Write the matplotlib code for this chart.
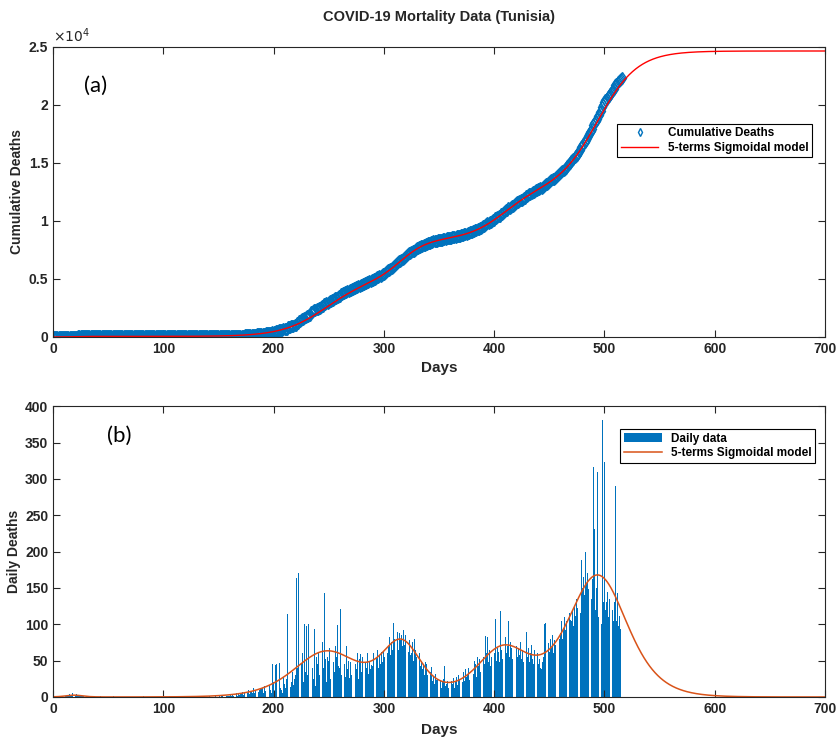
import numpy as np
import matplotlib
matplotlib.use("Agg")
import matplotlib.pyplot as plt

plt.rcParams['font.family'] = ['Liberation Sans', 'DejaVu Sans']

# daily deaths, day 0 .. 516
daily_deaths = [
    0, 0, 1, 0, 0, 1, 0, 2, 1, 0,
    1, 2, 1, 3, 2, 4, 3, 2, 5, 3,
    2, 4, 3, 1, 2, 3, 1, 2, 1, 0,
    1, 0, 1, 0, 0, 0, 1, 0, 0, 0,
    0, 0, 0, 1, 0, 0, 0, 0, 0, 0,
    0, 0, 0, 0, 0, 1, 0, 0, 0, 0,
    0, 0, 0, 0, 0, 0, 0, 0, 1, 0,
    0, 0, 0, 0, 0, 0, 0, 0, 0, 0,
    0, 0, 1, 0, 0, 0, 0, 0, 0, 0,
    0, 0, 0, 0, 0, 0, 0, 0, 0, 0,
    0, 0, 0, 0, 0, 0, 1, 0, 0, 0,
    0, 0, 0, 0, 0, 0, 0, 0, 0, 0,
    1, 0, 0, 0, 0, 0, 0, 0, 0, 1,
    0, 0, 0, 0, 0, 0, 0, 0, 0, 0,
    0, 0, 1, 0, 0, 0, 0, 1, 0, 0,
    0, 1, 0, 2, 1, 0, 3, 1, 2, 1,
    2, 3, 1, 4, 2, 3, 5, 2, 4, 3,
    5, 4, 7, 3, 6, 8, 5, 9, 4, 7,
    8, 6, 12, 5, 10, 20, 7, 9, 12, 11,
    12, 6, 15, 8, 31, 7, 17, 10, 5, 45,
    20, 8, 44, 46, 15, 47, 12, 10, 5, 28,
    18, 12, 25, 114, 60, 14, 20, 35, 16, 25,
    30, 164, 40, 170, 25, 45, 60, 20, 100, 35,
    98, 30, 100, 20, 217, 40, 25, 93, 15, 55,
    45, 62, 30, 58, 75, 40, 143, 52, 20, 55,
    50, 68, 25, 72, 48, 35, 70, 55, 99, 43,
    40, 121, 30, 62, 45, 28, 70, 38, 50, 26,
    48, 30, 55, 28, 45, 38, 60, 25, 52, 59,
    35, 55, 28, 48, 40, 60, 32, 50, 38, 44,
    42, 60, 35, 55, 65, 40, 58, 45, 62, 48,
    62, 55, 78, 60, 70, 82, 58, 75, 64, 102,
    80, 72, 90, 65, 88, 78, 85, 70, 92, 72,
    85, 70, 62, 78, 58, 60, 75, 50, 80, 65,
    55, 48, 60, 42, 50, 38, 45, 30, 48, 45,
    30, 25, 35, 41, 22, 28, 18, 32, 24, 25,
    18, 22, 12, 20, 25, 42, 15, 18, 22, 13,
    15, 22, 18, 26, 12, 20, 28, 16, 30, 23,
    25, 20, 35, 22, 38, 28, 30, 40, 24, 32,
    40, 32, 50, 45, 28, 55, 42, 52, 35, 52,
    55, 45, 84, 60, 82, 48, 65, 42, 55, 57,
    60, 107, 50, 68, 62, 48, 118, 65, 52, 67,
    82, 60, 70, 105, 55, 75, 68, 52, 72, 67,
    70, 55, 68, 58, 75, 52, 65, 48, 62, 90,
    55, 68, 48, 60, 72, 52, 45, 65, 58, 60,
    45, 52, 40, 38, 48, 55, 100, 102, 50, 74,
    62, 80, 68, 85, 60, 78, 72, 90, 65, 80,
    88, 105, 80, 95, 110, 92, 105, 98, 115, 106,
    105, 120, 98, 125, 112, 135, 122, 194, 115, 189,
    150, 165, 140, 200, 155, 170, 148, 162, 135, 162,
    316, 231, 120, 150, 309, 110, 185, 100, 381, 130,
    323, 120, 130, 145, 110, 135, 128, 120, 105, 130,
    290, 105, 143, 98, 112, 93, 85,
]

# fitted 5-terms sigmoidal model: amplitude, centre (day), width (days)
sig_amp = [50, 5000, 3400, 4200, 12000]
sig_center = [19, 248, 316, 408, 494]
sig_width = [5, 20, 12, 16, 18]

x_ticks = [0, 100, 200, 300, 400, 500, 600, 700]
y1_ticks = [0, 5000, 10000, 15000, 20000, 25000]
y1_labels = ['0', '0.5', '1', '1.5', '2', '2.5']
y2_ticks = [0, 50, 100, 150, 200, 250, 300, 350, 400]

days = np.arange(len(daily_deaths))
cumulative = np.cumsum(daily_deaths)

t = np.linspace(0, 700, 1401)
model_cum = np.zeros_like(t)
model_daily = np.zeros_like(t)
for a, c, w in zip(sig_amp, sig_center, sig_width):
    s = 1.0 / (1.0 + np.exp(-(t - c) / w))
    model_cum += a * s
    model_daily += a / w * s * (1 - s)

blue = '#0072BD'
dark = '#262626'

fig = plt.figure(figsize=(8.39, 7.38), dpi=100)
ax1 = fig.add_axes([0.0632, 0.5434, 0.920, 0.393])
ax2 = fig.add_axes([0.0632, 0.0556, 0.920, 0.394])


def style(ax):
    for sp in ax.spines.values():
        sp.set_color(dark)
        sp.set_linewidth(0.8)
    ax.tick_params(direction='in', length=5, width=0.8, colors=dark,
                   top=True, right=True, labelsize=10)
    for lb in ax.get_xticklabels() + ax.get_yticklabels():
        lb.set_fontweight('bold')


# (a) cumulative
ax1.plot(days, cumulative, linestyle='none', marker='d', markersize=6,
         markerfacecolor='none', markeredgecolor=blue, markeredgewidth=1,
         label='Cumulative Deaths')
ax1.plot(t, model_cum, color='#FF0000', lw=1, label='5-terms Sigmoidal model')
ax1.set_xlim(0, 700)
ax1.set_ylim(0, 25000)
ax1.set_xticks(x_ticks)
ax1.set_yticks(y1_ticks)
ax1.set_yticklabels(y1_labels)
style(ax1)
ax1.set_xlabel('Days', fontsize=11, fontweight='bold', color=dark, labelpad=4)
ax1.set_ylabel('Cumulative Deaths', fontsize=10, fontweight='bold', color=dark, labelpad=3)
ax1.set_title('COVID-19 Mortality Data (Tunisia)', fontsize=10.5, fontweight='bold',
              color=dark, pad=19)
ax1.text(0.0, 1.008, r'$\times10^{4}$', transform=ax1.transAxes, ha='left',
         va='bottom', fontsize=10, color=dark)
ax1.text(0.040, 0.867, '(a)', transform=ax1.transAxes, fontsize=16,
         family='Lato', va='center', ha='left')
leg1 = ax1.legend(loc='upper right', bbox_to_anchor=(0.991, 0.755), fancybox=False,
                  edgecolor='black', framealpha=1, handlelength=3.2, markerscale=0.7,
                  prop={'weight': 'bold', 'size': 8.5}, borderpad=0.3,
                  labelspacing=0.2)
leg1.get_frame().set_linewidth(0.8)

# (b) daily
bars = ax2.bar(days, daily_deaths, width=0.8, color=blue, edgecolor='none',
               label='Daily data')
line2, = ax2.plot(t, model_daily, color='#D95319', lw=1.1,
                  label='5-terms Sigmoidal model')
ax2.set_xlim(0, 700)
ax2.set_ylim(0, 400)
ax2.set_xticks(x_ticks)
ax2.set_yticks(y2_ticks)
style(ax2)
ax2.set_xlabel('Days', fontsize=11, fontweight='bold', color=dark, labelpad=5)
ax2.set_ylabel('Daily Deaths', fontsize=10, fontweight='bold', color=dark, labelpad=3)
ax2.text(0.070, 0.897, '(b)', transform=ax2.transAxes, fontsize=16,
         family='Lato', va='center', ha='left')
leg2 = ax2.legend(handles=[bars, line2], loc='upper right',
                  bbox_to_anchor=(0.995, 0.9416), fancybox=False,
                  edgecolor='black', framealpha=1, handlelength=3.2,
                  prop={'weight': 'bold', 'size': 8.5}, borderpad=0.3,
                  labelspacing=0.2)
leg2.get_frame().set_linewidth(0.8)

fig.savefig('out.png', dpi=100)
